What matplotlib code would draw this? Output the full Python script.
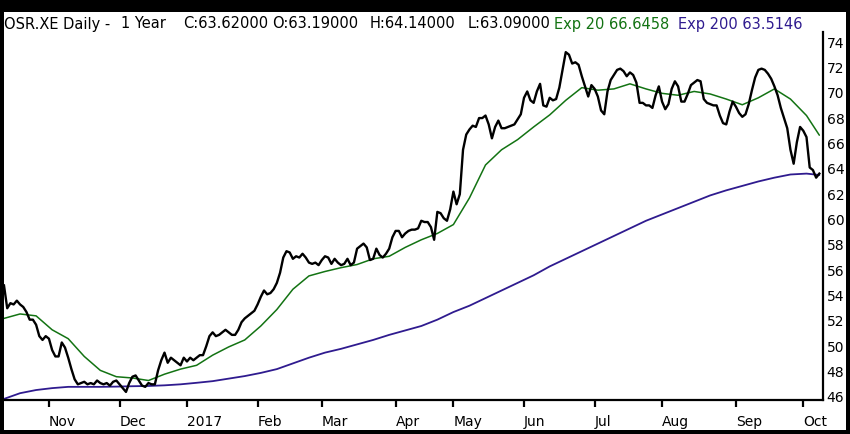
import matplotlib
matplotlib.use("Agg")
import matplotlib.pyplot as plt
from matplotlib.patches import Rectangle
import pandas as pd
import numpy as np

# ---------------- data ----------------
start_date = "2016-10-12"
end_date = "2017-10-09"
holidays = ["2016-12-26", "2017-04-14", "2017-04-17", "2017-05-01"]

close = [
    54.8, 53.0, 53.4, 53.3, 53.6, 53.3, 53.1, 52.7, 52.1, 52.1,
    51.7, 50.8, 50.5, 50.8, 50.6, 49.7, 49.2, 49.2, 50.3, 49.9,
    49.1, 48.2, 47.4, 47.0, 47.1, 47.2, 47.0, 47.1, 47.0, 47.3,
    47.1, 47.0, 47.1, 46.9, 47.2, 47.3, 47.0, 46.7, 46.4, 47.1,
    47.6, 47.7, 47.3, 46.9, 46.8, 47.1, 47.0, 47.0, 48.1, 48.9,
    49.5, 48.7, 49.1, 48.9, 48.7, 48.5, 49.1, 48.8, 49.1, 48.9,
    49.1, 49.3, 49.3, 50.0, 50.8, 51.1, 50.8, 50.9, 51.1, 51.3,
    51.1, 50.9, 50.9, 51.3, 51.9, 52.2, 52.4, 52.6, 52.8, 53.3,
    53.9, 54.4, 54.1, 54.2, 54.5, 55.0, 55.8, 57.0, 57.5, 57.4,
    56.9, 57.1, 57.0, 57.3, 57.0, 56.6, 56.5, 56.6, 56.4, 56.8,
    57.1, 57.0, 56.5, 56.9, 56.6, 56.4, 56.5, 56.9, 56.4, 56.6,
    57.7, 57.9, 58.1, 57.8, 56.8, 56.9, 57.7, 57.2, 57.0, 57.3,
    57.7, 58.6, 59.1, 59.1, 58.6, 58.9, 59.1, 59.2, 59.2, 59.3,
    59.9, 59.8, 59.8, 59.4, 58.4, 60.6, 60.5, 60.1, 59.9, 60.8,
    62.2, 61.2, 62.0, 65.5, 66.7, 67.1, 67.4, 67.3, 68.0, 68.0,
    68.2, 67.5, 66.4, 67.3, 67.8, 67.2, 67.2, 67.3, 67.4, 67.5,
    67.9, 68.3, 69.6, 70.1, 69.4, 69.2, 70.1, 70.7, 69.0, 68.9,
    69.6, 69.4, 69.5, 70.4, 71.8, 73.2, 73.0, 72.3, 72.4, 72.2,
    71.3, 70.5, 69.7, 70.6, 70.3, 69.7, 68.6, 68.3, 70.1, 71.0,
    71.4, 71.8, 71.9, 71.7, 71.3, 71.6, 71.4, 70.8, 69.2, 69.2,
    69.0, 69.0, 68.8, 69.8, 70.5, 69.3, 68.7, 69.1, 70.3, 70.9,
    70.5, 69.3, 69.3, 69.9, 70.6, 70.8, 71.0, 70.9, 69.5, 69.2,
    69.1, 69.0, 69.0, 68.2, 67.6, 67.5, 68.5, 69.3, 68.9, 68.4,
    68.1, 68.3, 69.1, 70.2, 71.2, 71.8, 71.9, 71.8, 71.5, 71.1,
    70.5, 69.8, 68.8, 68.0, 67.2, 65.5, 64.4, 66.1, 67.3, 67.0,
    66.5, 64.1, 63.9, 63.3, 63.62,
]

# exponential averages read every 5th session (plus the last one)
ema_step = 5
ema20 = [
    52.2, 52.55, 52.4, 51.3, 50.6, 49.2, 48.1, 47.6, 47.5, 47.3,
    47.8, 48.2, 48.5, 49.3, 49.95, 50.5, 51.6, 52.9, 54.5, 55.55,
    55.9, 56.2, 56.45, 56.9, 57.1, 57.8, 58.4, 58.9, 59.6, 61.7,
    64.3, 65.5, 66.3, 67.3, 68.25, 69.4, 70.4, 70.2, 70.3, 70.7,
    70.3, 69.95, 69.8, 70.1, 69.9, 69.5, 69.05, 69.6, 70.3, 69.5,
    68.2, 66.65,
]
ema200 = [
    45.85, 46.3, 46.55, 46.7, 46.8, 46.8, 46.8, 46.82, 46.85, 46.87,
    46.92, 47.0, 47.12, 47.25, 47.45, 47.65, 47.9, 48.2, 48.65, 49.1,
    49.5, 49.8, 50.15, 50.5, 50.9, 51.25, 51.6, 52.1, 52.7, 53.2,
    53.8, 54.4, 55.0, 55.6, 56.3, 56.9, 57.5, 58.1, 58.7, 59.3,
    59.9, 60.4, 60.9, 61.4, 61.9, 62.3, 62.65, 63.0, 63.3, 63.55,
    63.62, 63.51,
]

title_parts = ["OSR.XE Daily -", "1 Year", "C:63.62000", "O:63.19000",
               "H:64.14000", "L:63.09000", "Exp 20 66.6458", "Exp 200 63.5146"]
y_ticks = list(range(46, 75, 2))

# ---------------- derived ----------------
dates = pd.bdate_range(start_date, end_date)
dates = dates[~dates.isin(pd.to_datetime(holidays))]
n = len(dates)
assert n == len(close), (n, len(close))
idx = np.arange(n)
ema_idx = list(range(0, n, ema_step))
if ema_idx[-1] != n - 1:
    ema_idx.append(n - 1)
assert len(ema_idx) == len(ema20) == len(ema200)

month_ticks = [i for i in range(1, n) if dates[i].month != dates[i - 1].month]
month_labels = [("%d" % dates[i].year) if dates[i].month == 1 else dates[i].strftime("%b")
                for i in month_ticks]

# ---------------- figure ----------------
W, H = 850, 434
fig = plt.figure(figsize=(W / 100, H / 100), dpi=100)
fig.patch.set_facecolor("black")
fig.add_artist(Rectangle((4 / W, 4 / H), (846 - 4) / W, (430 - 12) / H,
                         transform=fig.transFigure, facecolor="white",
                         edgecolor="none", zorder=0))

ax_left, ax_right, ax_top, ax_bottom = 4, 822.5, 12, 400
ax = fig.add_axes([ax_left / W, (H - ax_bottom) / H,
                   (ax_right - ax_left) / W, (ax_bottom - ax_top) / H])
ax.set_facecolor("white")

px_per_unit = (397 - 42) / 28.0
ax.set_ylim(46 - (ax_bottom - 397) / px_per_unit, 46 + (397 - ax_top) / px_per_unit)
ax.set_xlim(0, (ax_right - ax_left) / 3.21)

green = "#137313"
purple = "#2f1b8f"
ax.plot(ema_idx, ema200, color=purple, lw=1.3, zorder=2, solid_capstyle="round")
ax.plot(ema_idx, ema20, color=green, lw=1.1, zorder=3, solid_capstyle="round")
ax.plot(idx, close, color="black", lw=1.7, zorder=4, solid_joinstyle="round")

for s in ["top", "left"]:
    ax.spines[s].set_visible(False)
for s in ["right", "bottom"]:
    ax.spines[s].set_color("black")
    ax.spines[s].set_linewidth(1.6)
ax.spines["right"].set_bounds(ax.get_ylim()[0], 46 + (397 - 32) / px_per_unit)

ax.yaxis.tick_right()
ax.set_yticks(y_ticks)
ax.set_yticklabels([str(v) for v in y_ticks])
ax.tick_params(axis="y", length=0, pad=3, labelsize=10, labelcolor="black")
for lab in ax.get_yticklabels():
    lab.set_horizontalalignment("left")

ax.set_xticks(month_ticks)
ax.set_xticklabels(month_labels)
ax.tick_params(axis="x", direction="out", length=5, width=1.6, pad=5.5,
               labelsize=10, labelcolor="black", color="black")
for lab in ax.get_xticklabels():
    lab.set_horizontalalignment("left")

# title pieces
title_x = [4, 121, 183, 272, 370, 468, 554, 678]
title_c = ["black"] * 6 + [green, purple]
ty = (H - 24) / H
for s, xp, c in zip(title_parts, title_x, title_c):
    fig.text(xp / W, ty, s, color=c, fontsize=10.5, ha="left", va="center")

fig.savefig("out.png", dpi=100, facecolor=fig.get_facecolor())
